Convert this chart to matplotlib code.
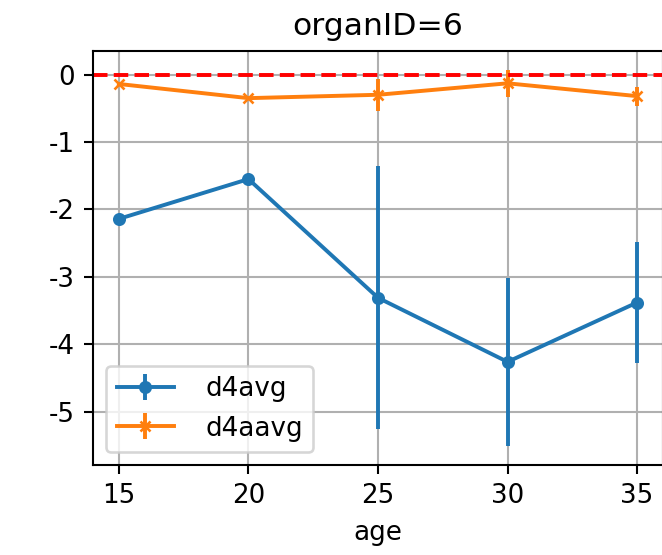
import matplotlib
matplotlib.use("Agg")
import matplotlib.pyplot as plt

plt.rcParams['axes.unicode_minus'] = False

# data
age = [15, 20, 25, 30, 35]
d4avg = [-2.14, -1.55, -3.31, -4.26, -3.38]
d4avg_err = [0.0, 0.0, 1.95, 1.25, 0.9]
d4aavg = [-0.14, -0.35, -0.30, -0.13, -0.32]
d4aavg_err = [0.0, 0.0, 0.24, 0.20, 0.14]

dpi = 188
fig = plt.figure(figsize=(662 / dpi, 555 / dpi), dpi=dpi)
ax = fig.add_axes([93 / 662, 90 / 555, 570 / 662, 414 / 555])

ax.errorbar(age, d4avg, yerr=d4avg_err, marker='o', markersize=4, label='d4avg')
ax.errorbar(age, d4aavg, yerr=d4aavg_err, marker='x', markersize=4, label='d4aavg')
ax.axhline(0, color='r', linestyle='--')

ax.set_xticks(age)
ax.set_xlabel('age')
ax.set_title('organID=6')
ax.grid(True)
ax.legend(loc='lower left', handlelength=2.2, handletextpad=1.2)

fig.savefig('out.png', dpi=dpi)
